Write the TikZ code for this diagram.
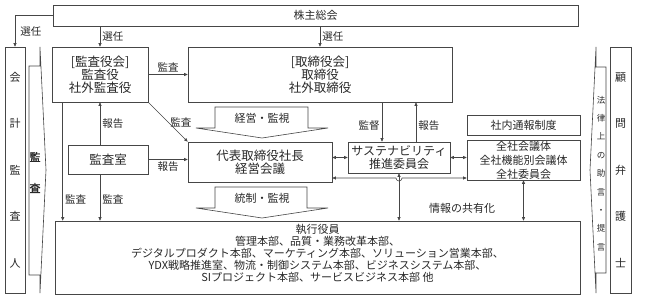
\documentclass[tikz,border=0pt]{standalone}
\usepackage{fontspec}
\setmainfont{Noto Sans CJK JP}
\newfontfamily\jpbold{Noto Sans CJK JP}[FakeBold=1.5]
\usepackage{tikz}
\usetikzlibrary{arrows.meta,calc}

\definecolor{linegray}{RGB}{70,70,70}
\definecolor{textgray}{RGB}{40,40,40}

\newcommand{\fontbig}{\fontsize{12.5}{13}\selectfont}
\newcommand{\fontmid}{\fontsize{11}{14}\selectfont}

\tikzset{
  box/.style={draw=linegray, line width=0.6pt, align=center, inner sep=0pt, text=textgray},
  arr/.style={draw=linegray, line width=0.6pt, -{Triangle[length=3.5pt,width=3pt]}},
  dblarr/.style={draw=linegray, line width=0.6pt, {Triangle[length=3.5pt,width=3pt]}-{Triangle[length=3.5pt,width=3pt]}},
  lbl/.style={text=textgray, font=\fontsize{10.5}{12}\selectfont, inner sep=2pt},
  blockarrow/.style={draw=linegray, line width=0.6pt, fill=white},
}

\begin{document}
\begin{tikzpicture}[x=1pt, y=-1pt]
\useasboundingbox (0,0) rectangle (645,302);

\node[box, minimum width=525pt, minimum height=21pt, font=\fontmid] (soukai) at (315.5,15.5) {株主総会};
\node[box, minimum width=96pt, minimum height=55pt, font=\fontbig] (kansayakukai) at (100,74.5) {[監査役会]\\監査役\\社外監査役};
\node[box, minimum width=264pt, minimum height=55pt, font=\fontbig] (torishimari) at (320,74.5) {[取締役会]\\取締役\\社外取締役};
\node[box, minimum width=80pt, minimum height=29pt, font=\fontbig] (kansashitsu) at (108,159.5) {監査室};
\node[box, minimum width=144pt, minimum height=40pt, font=\fontbig] (shachou) at (260,162) {代表取締役社長\\経営会議};
\node[box, minimum width=102pt, minimum height=31pt, font=\fontsize{12}{13}\selectfont] (sustain) at (399,157.5) {サステナビリティ\\推進委員会};
\node[box, minimum width=113pt, minimum height=20pt, font=\fontmid] (tsuho) at (523.5,125) {社内通報制度};
\node[box, minimum width=113pt, minimum height=40pt, font=\fontmid] (zensha) at (523.5,160) {全社会議体\\全社機能別会議体\\全社委員会};
\node[box, minimum width=525pt, minimum height=73pt, text depth=9pt, font=\fontsize{11}{12}\selectfont] (shikko) at (317.5,257.5)
  {執行役員\\管理本部、品質・業務改革本部、\\デジタルプロダクト本部、マーケティング本部、ソリューション営業本部、\\YDX戦略推進室、物流・制御システム本部、ビジネスシステム本部、\\SIプロジェクト本部、サービスビジネス本部 他};
\node[box, minimum width=20pt, minimum height=246pt, font=\fontsize{11}{46.5}\selectfont] (kaikei) at (15,170) {会\\計\\監\\査\\人};
\node[box, minimum width=21pt, minimum height=246pt, font=\fontsize{11}{46.5}\selectfont] (komon) at (620.5,170) {顧\\問\\弁\\護\\士};

% block arrows
\draw[blockarrow] (29,66) -- (40,66) -- (40,47) -- (46,170) -- (40,293) -- (40,275) -- (29,275) -- cycle;
\node[lbl, align=center, font=\jpbold\fontsize{11}{31}\selectfont] (kansa) at (35,172.5) {監\\査};
\draw[blockarrow] (606,67) -- (596,67) -- (596,47) -- (590,170) -- (596,293) -- (596,273) -- (606,273) -- cycle;
\node[lbl, align=center, inner sep=0pt, font=\fontsize{8.5}{18.4}\selectfont] (houritsu) at (601,173.5) {法\\律\\上\\の\\助\\言\\・\\提\\言};
\draw[blockarrow] (215,107) -- (308,107) -- (308,128) -- (328,128) -- (262,138) -- (196,128) -- (215,128) -- cycle;
\node[lbl, font=\fontmid] (keiei) at (262,118) {経営・監視};
\draw[blockarrow] (215,187) -- (307,187) -- (307,208) -- (328,208) -- (262,218) -- (196,208) -- (215,208) -- cycle;
\node[lbl, font=\fontmid] (tousei) at (262,198.5) {統制・監視};

% connectors
\draw[arr] (soukai.west) -| node[lbl, pos=0.75, right=3pt] {選任} (kaikei.north);
\draw[arr] (kansayakukai.north |- soukai.south) -- node[lbl, right] {選任} (kansayakukai.north);
\draw[arr] (torishimari.north |- soukai.south) -- node[lbl, right] {選任} (torishimari.north);
\draw[arr] (kansayakukai.east) -- node[lbl, above] {監査} (torishimari.west);
\draw[arr] (kansayakukai.south east) -- node[lbl, right] {監査} (shachou.north west);
\draw[arr] (kansayakukai.south |- kansashitsu.north) -- node[lbl, right] {報告} (kansayakukai.south);
\draw[arr] (kansashitsu.east) -- node[lbl, below] {報告} (kansashitsu.east -| shachou.west);

\coordinate (kansaL) at ([xshift=11pt]kansayakukai.south west);
\draw[arr] (kansaL) -- node[lbl, pos=0.82, right] {監査} (kansaL |- shikko.north);
\draw[arr] (kansayakukai.south |- kansashitsu.south) -- node[lbl, pos=0.55, right] {監査} (kansayakukai.south |- shikko.north);

\coordinate (kantokuT) at ([xshift=-17pt]sustain.north);
\coordinate (houkokuT) at ([xshift=17pt]sustain.north);
\draw[arr] (kantokuT |- torishimari.south) -- node[lbl, pos=0.6, left] {監督} (kantokuT);
\draw[arr] (houkokuT) -- node[lbl, pos=0.4, right] {報告} (houkokuT |- torishimari.south);

\draw[dblarr] (shachou.east |- sustain.west) -- (sustain.west);
\draw[dblarr] (sustain.east) -- (sustain.east -| zensha.west);
\draw[dblarr] (zensha.west |- 0,178) -- (402,178) arc[start angle=0, end angle=180, radius=3] -- (shachou.east |- 0,178);
\draw[dblarr] (sustain.south) -- (sustain.south |- shikko.north);
\draw[dblarr] (zensha.south) -- (zensha.south |- shikko.north);
\node[lbl, font=\fontmid] (info) at (462,208) {情報の共有化};
\end{tikzpicture}
\end{document}
